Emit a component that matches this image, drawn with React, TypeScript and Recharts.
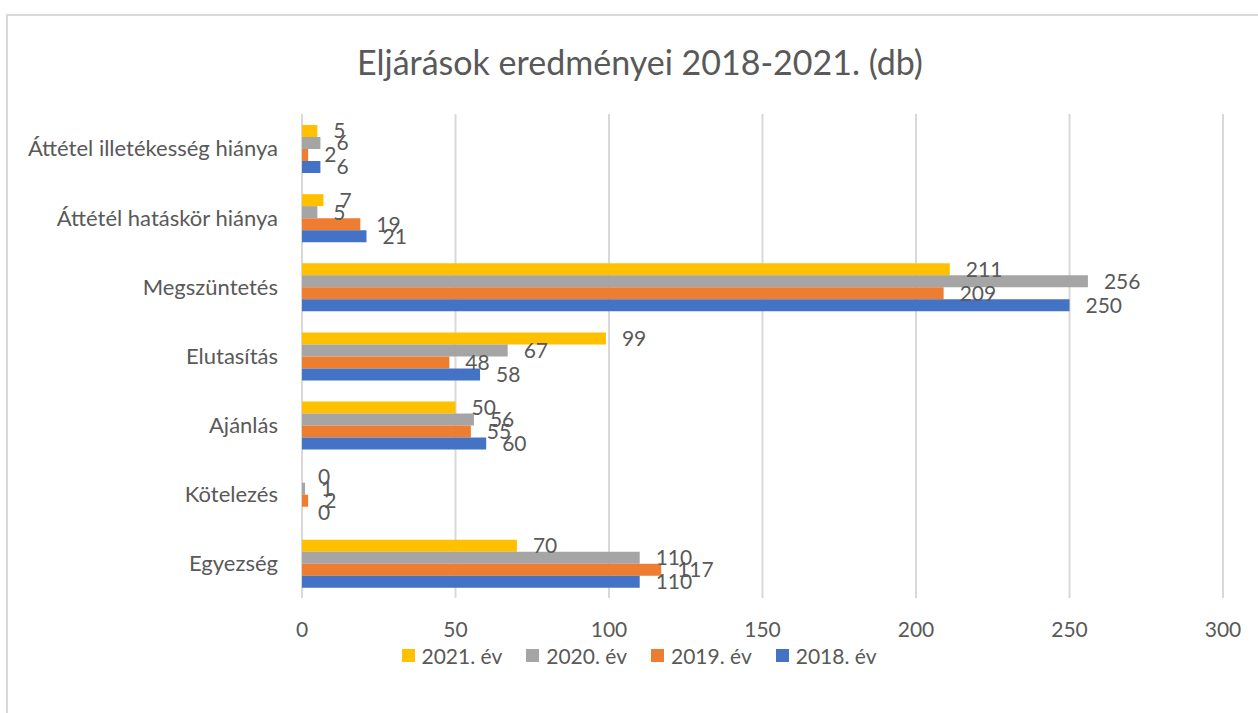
import React from 'react';
import { BarChart, Bar, XAxis, YAxis, CartesianGrid, LabelList, Legend } from 'recharts';

const categories = [
  'Áttétel illetékesség hiánya',
  'Áttétél hatáskör hiánya',
  'Megszüntetés',
  'Elutasítás',
  'Ajánlás',
  'Kötelezés',
  'Egyezség',
];
const values2021 = [5, 7, 211, 99, 50, 0, 70];
const values2020 = [6, 5, 256, 67, 56, 1, 110];
const values2019 = [2, 19, 209, 48, 55, 2, 117];
const values2018 = [6, 21, 250, 58, 60, 0, 110];
const xTicks = [0, 50, 100, 150, 200, 250, 300];

const series = [
  { key: 'v2021', name: '2021. év', color: '#FFC000' },
  { key: 'v2020', name: '2020. év', color: '#A5A5A5' },
  { key: 'v2019', name: '2019. év', color: '#ED7D31' },
  { key: 'v2018', name: '2018. év', color: '#4472C4' },
];

const data = categories.map((name, i) => ({
  name,
  v2021: values2021[i],
  v2020: values2020[i],
  v2019: values2019[i],
  v2018: values2018[i],
}));

const FONT = 'Lato, "Noto Sans", sans-serif';
const TEXT = '#595959';

const LegendContent = () => (
  <div style={{ display: 'flex', justifyContent: 'center', fontFamily: FONT, fontSize: 21, color: TEXT }}>
    {series.map((s) => (
      <div key={s.key} style={{ display: 'flex', alignItems: 'center', marginRight: 24 }}>
        <span style={{ width: 13, height: 13, background: s.color, marginRight: 7, display: 'inline-block' }} />
        <span>{s.name}</span>
      </div>
    ))}
  </div>
);

export default function App() {
  return (
    <div style={{ position: 'absolute', left: 0, top: 0, width: 1258, height: 713, background: '#fff', overflow: 'hidden' }}>
      <div
        style={{
          position: 'absolute',
          left: 6,
          top: 14,
          width: 1300,
          height: 760,
          borderTop: '2px solid #D9D9D9',
          borderLeft: '2px solid #D9D9D9',
        }}
      />
      <div
        style={{
          position: 'absolute',
          left: 0,
          top: 41,
          width: 1280,
          textAlign: 'center',
          fontFamily: FONT,
          fontSize: 34,
          color: TEXT,
        }}
      >
        Eljárások eredményei 2018-2021. (db)
      </div>
      <BarChart
        width={1258}
        height={713}
        data={data}
        layout="vertical"
        margin={{ top: 114, right: 35, bottom: 85, left: 0 }}
        barSize={12}
        barGap={0}
        style={{ position: 'absolute', left: 0, top: 0 }}
      >
        <CartesianGrid horizontal={false} stroke="#D9D9D9" strokeWidth={2} />
        <XAxis
          type="number"
          domain={[0, 300]}
          ticks={xTicks}
          axisLine={false}
          tickLine={false}
          tickSize={0}
          tickMargin={24}
          height={30}
          tick={{ fill: TEXT, fontSize: 21, fontFamily: FONT }}
        />
        <YAxis
          type="category"
          dataKey="name"
          width={302}
          axisLine={false}
          tickLine={false}
          tickSize={0}
          tickMargin={24}
          tick={{ fill: TEXT, fontSize: 22, fontFamily: FONT }}
        />
        <Legend
          layout="horizontal"
          verticalAlign="middle"
          align="center"
          content={<LegendContent />}
          wrapperStyle={{ top: 643, left: 22, width: 1258 }}
        />
        {series.map((s) => (
          <Bar
            key={s.key}
            dataKey={s.key}
            name={s.name}
            fill={s.color}
            minPointSize={0.01}
            isAnimationActive={false}
          >
            <LabelList
              dataKey={s.key}
              position="right"
              offset={16}
              fill={TEXT}
              fontSize={21}
              fontFamily={FONT}
            />
          </Bar>
        ))}
      </BarChart>
    </div>
  );
}
